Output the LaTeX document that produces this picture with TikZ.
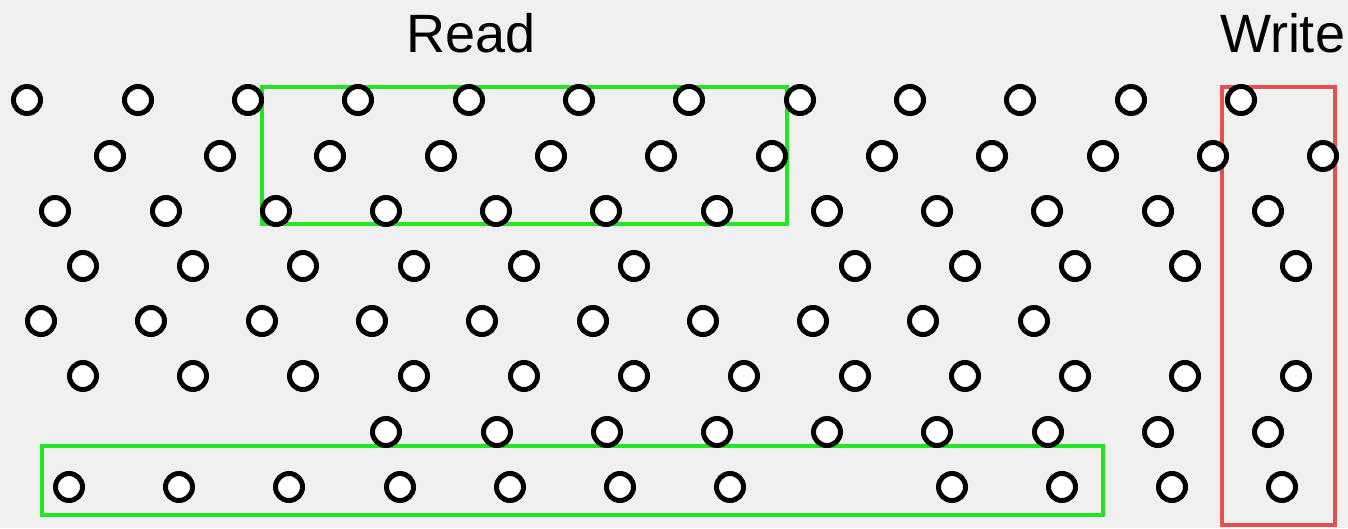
\documentclass[tikz,border=0pt]{standalone}
\usepackage{fontspec}
\setmainfont{Liberation Sans}
\definecolor{bgc}{HTML}{F0F0F0}
\definecolor{readc}{HTML}{22E622}
\definecolor{writec}{HTML}{E65050}
\tikzset{
  dot/.style={circle, draw=black, line width=5pt, fill=white, minimum size=27pt, inner sep=0pt},
  readbox/.style={draw=readc, line width=4.5pt},
  writebox/.style={draw=writec, line width=4.5pt},
  lbl/.style={anchor=base, inner sep=0pt, font=\fontsize{54}{60}\selectfont}
}
\begin{document}
\begin{tikzpicture}[x=1pt,y=-1pt]
\fill[bgc] (0,0) rectangle (1348,528);
\useasboundingbox (0,0) rectangle (1348,528);
\node[lbl] (read) at (471.5,52) {Read};
\node[lbl] (write) at (1282.5,52) {Write};
\draw[readbox] (262,87) rectangle (787,224);
\draw[readbox] (42,446) rectangle (1103,515);
\draw[writebox] (1222,87) rectangle (1335,525);
\foreach \r/\yy/\xs in {
  1/100/{27,138,248,358,469,579,689,800,910,1020,1131,1241},
  2/156/{110,220,330,441,551,661,772,882,992,1103,1213,1323},
  3/211/{55,166,276,386,496,606,717,827,937,1047,1158,1268},
  4/266/{83,193,303,414,524,634,855,965,1075,1185,1296},
  5/321/{41,151,262,372,482,593,703,813,923,1034},
  6/376/{83,193,303,414,524,634,744,855,965,1075,1185,1296},
  7/432/{386,497,607,717,827,937,1048,1158,1268},
  8/487/{69,179,289,400,510,620,730,952,1062,1172,1282}}
{
  \foreach \x [count=\i] in \xs {
    \node[dot] (c-\r-\i) at (\x,\yy) {};
  }
}
\end{tikzpicture}
\end{document}
